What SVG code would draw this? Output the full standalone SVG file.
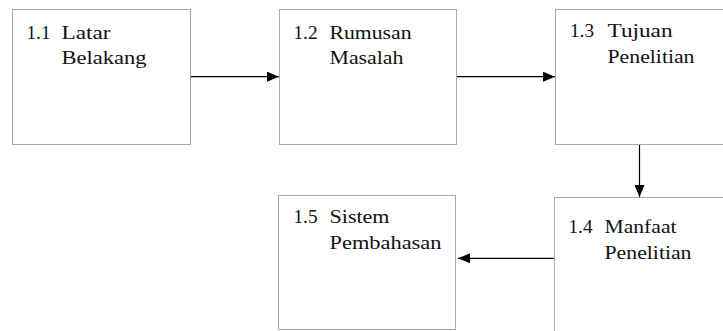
<svg xmlns="http://www.w3.org/2000/svg" width="723" height="331" viewBox="0 0 723 331">
<style>
.box{fill:#fff;stroke:#a8a8a8;stroke-width:1}
.lbl{font-family:"Liberation Serif",Tinos,"Times New Roman","Noto Serif","DejaVu Serif",serif;font-size:18.6px;fill:#111}
.conn{stroke:#000;stroke-width:1.2;fill:none;marker-end:url(#ah)}
</style>
<defs>
<marker id="ah" markerUnits="userSpaceOnUse" markerWidth="12" markerHeight="10" refX="12" refY="5" orient="auto">
<path d="M0,0 L12,5 L0,10 z" fill="#000"/>
</marker>
</defs>
<rect width="723" height="331" fill="#fff"/>
<g id="n1">
<rect class="box" x="12.5" y="9.5" width="178" height="135"/>
<text class="lbl" x="26.5" y="39" textLength="24" lengthAdjust="spacingAndGlyphs">1.1</text>
<text class="lbl" x="61.5" y="39" textLength="49" lengthAdjust="spacingAndGlyphs">Latar</text>
<text class="lbl" x="61.5" y="64" textLength="85" lengthAdjust="spacingAndGlyphs">Belakang</text>
</g>
<g id="n2">
<rect class="box" x="279.5" y="9.5" width="177" height="135"/>
<text class="lbl" x="293.5" y="39" textLength="24" lengthAdjust="spacingAndGlyphs">1.2</text>
<text class="lbl" x="329.5" y="39" textLength="82" lengthAdjust="spacingAndGlyphs">Rumusan</text>
<text class="lbl" x="329.5" y="64" textLength="74" lengthAdjust="spacingAndGlyphs">Masalah</text>
</g>
<g id="n3">
<rect class="box" x="555.5" y="9.5" width="178" height="135"/>
<text class="lbl" x="570" y="37" textLength="24" lengthAdjust="spacingAndGlyphs">1.3</text>
<text class="lbl" x="607.5" y="37" textLength="65" lengthAdjust="spacingAndGlyphs">Tujuan</text>
<text class="lbl" x="607.5" y="63" textLength="87" lengthAdjust="spacingAndGlyphs">Penelitian</text>
</g>
<g id="n4">
<rect class="box" x="554.5" y="197.5" width="178" height="136"/>
<text class="lbl" x="568.5" y="233" textLength="24" lengthAdjust="spacingAndGlyphs">1.4</text>
<text class="lbl" x="604.5" y="233" textLength="72" lengthAdjust="spacingAndGlyphs">Manfaat</text>
<text class="lbl" x="604.5" y="259" textLength="87" lengthAdjust="spacingAndGlyphs">Penelitian</text>
</g>
<g id="n5">
<rect class="box" x="278.5" y="195.5" width="177" height="134"/>
<text class="lbl" x="293.5" y="223" textLength="24" lengthAdjust="spacingAndGlyphs">1.5</text>
<text class="lbl" x="329.5" y="223" textLength="60" lengthAdjust="spacingAndGlyphs">Sistem</text>
<text class="lbl" x="329.5" y="248.5" textLength="112" lengthAdjust="spacingAndGlyphs">Pembahasan</text>
</g>
<g id="connectors">
<line class="conn" x1="191" y1="76.7" x2="279" y2="76.7"/>
<line class="conn" x1="457" y1="76.7" x2="555" y2="76.7"/>
<line class="conn" x1="639.5" y1="145" x2="639.5" y2="197"/>
<line class="conn" x1="554" y1="258.3" x2="458" y2="258.3"/>
</g>
</svg>
